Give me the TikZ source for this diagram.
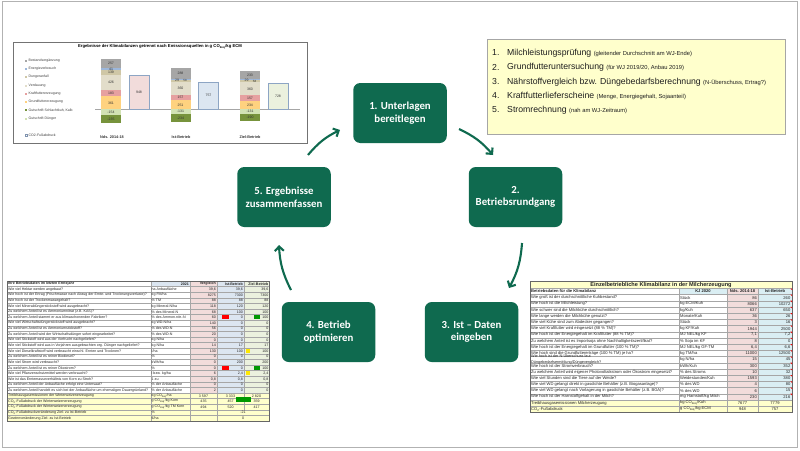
\documentclass[tikz,border=0pt]{standalone}
\usepackage{fontspec}
\setmainfont{Liberation Sans}
\newfontfamily\boxfont{Carlito}
\usetikzlibrary{arrows.meta}
\definecolor{boxgreen}{HTML}{0F6A4F}
\definecolor{cBest}{HTML}{A6A6A6}
\definecolor{cEner}{HTML}{9DB7DA}
\definecolor{cDung}{HTML}{CFC7A6}
\definecolor{cVerd}{HTML}{E2DDCA}
\definecolor{cKraft}{HTML}{E6A0A0}
\definecolor{cGrund}{HTML}{FFD27F}
\definecolor{cGschl}{HTML}{77933C}
\definecolor{cGdung}{HTML}{D2E2B4}
\definecolor{tpink}{HTML}{F2DCDB}
\definecolor{tblue}{HTML}{DCE6F1}
\definecolor{tcyan}{HTML}{DAEEF3}
\definecolor{tgreen}{HTML}{EBF1DE}
\definecolor{tyellow}{HTML}{FFFFCC}
\definecolor{gridgray}{HTML}{A6A6A6}
\newcommand\ltfont{\fontsize{3.6}{4}\selectfont}
\newcommand\rtfont{\fontsize{4.1}{4.6}\selectfont}
\newcommand\chfont{\fontsize{3.5}{4}\selectfont}
\newcommand\COeq{CO\textsubscript{2eq}}
% chart helpers
\newcommand\barseg[4]{\fill[#4] ({#1-10},{109.3-(#2)*0.0357}) rectangle ({#1+10},{109.3-(#3)*0.0357});}
\newcommand\barlbl[3]{\node[chartnum] at (#1,{109.3-(#2)*0.0357}) {#3};}
% left table row
\newcommand\lrow[6]{%
  \node[ltxt,anchor=west] at (8,{281+(#1+0.5)*5.6}) {#2};
  \node[ltxt,anchor=west] at (151.5,{281+(#1+0.5)*5.6}) {#3};
  \node[ltxt,anchor=east] at (216,{281+(#1+0.5)*5.6}) {#4};
  \node[ltxt,anchor=east] at (243,{281+(#1+0.5)*5.6}) {#5};
  \node[ltxt,anchor=east] at (268.5,{281+(#1+0.5)*5.6}) {#6};}
\newcommand\lrowy[6]{%
  \node[ltxt,anchor=west] at (8,{281+(#1+0.5)*5.6}) {#2};
  \node[ltxt,anchor=west] at (151.5,{281+(#1+0.5)*5.6}) {#3};
  \node[ltxt] at (203.5,{281+(#1+0.5)*5.6}) {#4};
  \node[ltxt] at (230.5,{281+(#1+0.5)*5.6}) {#5};
  \node[ltxt] at (256.5,{281+(#1+0.5)*5.6}) {#6};}
% right table row
\newcommand\rrow[5]{%
  \node[rtxt,anchor=west] at (531,{294.5+(#1-0.5)*6.2}) {#2};
  \node[rtxt,anchor=west] at (680,{294.5+(#1-0.5)*6.2}) {#3};
  \node[rtxt,anchor=east] at (757,{294.5+(#1-0.5)*6.2}) {#4};
  \node[rtxt,anchor=east] at (790.5,{294.5+(#1-0.5)*6.2}) {#5};
  \fill[red] (792,{294.5+(#1-1)*6.2}) -- (790.4,{294.5+(#1-1)*6.2}) -- (792,{294.5+(#1-1)*6.2+1.6}) -- cycle;}
\newcommand\rrowy[5]{%
  \node[rtxt,anchor=west] at (531,{294.5+(#1-0.5)*6.2}) {#2};
  \node[rtxt,anchor=west] at (680,{294.5+(#1-0.5)*6.2}) {#3};
  \node[rtxt] at (742.5,{294.5+(#1-0.5)*6.2}) {#4};
  \node[rtxt] at (775,{294.5+(#1-0.5)*6.2}) {#5};}
\begin{document}
\begin{tikzpicture}[x=1pt,y=-1pt,
  stepbox/.style={fill=boxgreen, rounded corners=7pt, minimum width=93.5pt, minimum height=60pt,
    text=white, font=\boxfont\bfseries\fontsize{10.8}{12.5}\selectfont, align=center, inner sep=0pt},
  cyclearrow/.style={draw=boxgreen, line width=2.1pt, -{Straight Barb[length=4.5pt,width=9pt]}},
  chartnum/.style={font=\chfont, inner sep=0pt, text=black!80},
  legtxt/.style={font=\chfont, inner sep=0pt, anchor=west, text=black!75},
  ltxt/.style={font=\ltfont, inner sep=0pt, text=black!85},
  rtxt/.style={font=\rtfont, inner sep=0pt, text=black!85},
  notenum/.style={font=\fontsize{8.7}{10}\selectfont, inner sep=0pt, anchor=west, text=black!88},
  grid/.style={draw=gridgray, line width=0.3pt}]
\useasboundingbox (0,0) rectangle (800,450);
\fill[white] (0,0) rectangle (800,450);
\draw[gray!60, line width=1.5pt] (2.5,1.5) rectangle (797.5,447.5);

% ---------------- chart ----------------
\draw[black!55, line width=0.8pt] (13,42) rectangle (307,143);
\node[font=\bfseries\fontsize{4.2}{5}\selectfont, inner sep=0pt] (ctitle) at (160,47)
  {Ergebnisse der Klimabilanzen getrennt nach Emissionsquellen in g \COeq/kg ECM};
\foreach \yy/\cc/\tt in {61/cBest/Bestandsergänzung, 69/cEner/Energieverbrauch, 77/cDung/Dungeranfall,
  86/cVerd/Verdauung, 94/cKraft/Kraftfuttererzeugung, 102/cGrund/Grundfuttererzeugung,
  110/cGschl/{Gutschrift Schlachtkuh, Kalb}, 119/cGdung/Gutschrift Dünger}{
  \fill[\cc] (25,\yy-1) rectangle (27,\yy+1);
  \node[legtxt] at (28.5,\yy) {\tt};
}
\draw[cEner!80!black, line width=0.3pt] (25,134) rectangle (27,136);
\node[legtxt] at (28.5,135) {CO2-Fußabdruck};
\draw[gray!70, line width=0.4pt] (95,109.3) -- (300,109.3);
% group 1
\barseg{111}{0}{361}{cGrund}\barseg{111}{361}{544}{cKraft}\barseg{111}{544}{970}{cVerd}
\barseg{111}{970}{1109}{cDung}\barseg{111}{1109}{1150}{cEner}\barseg{111}{1150}{1407}{cBest}
\barseg{111}{0}{-154}{cGdung}\barseg{111}{-154}{-389}{cGschl}
\barlbl{111}{1278}{257}\barlbl{111}{1129}{41}\barlbl{111}{1030}{139}\barlbl{111}{757}{426}
\barlbl{111}{452}{183}\barlbl{111}{180}{361}\barlbl{111}{-77}{-154}\barlbl{111}{-271}{-235}
\fill[tpink] (129,{109.3-948*0.0357}) rectangle (149,109.3);
\draw[cEner!90!black, line width=0.5pt] (129,{109.3-948*0.0357}) rectangle (149,109.3);
\barlbl{139}{474}{948}
% group 2
\barseg{180.5}{0}{251}{cGrund}\barseg{180.5}{251}{408}{cKraft}\barseg{180.5}{408}{768}{cVerd}
\barseg{180.5}{768}{826}{cDung}\barseg{180.5}{826}{855}{cEner}\barseg{180.5}{855}{1143}{cBest}
\barseg{180.5}{0}{-131}{cGdung}\barseg{180.5}{-131}{-365}{cGschl}
\barlbl{180.5}{999}{288}\node[chartnum] at (177,80) {29};\node[chartnum,font=\fontsize{3}{3}\selectfont] at (185,80.8) {58};
\barlbl{180.5}{588}{360}\barlbl{180.5}{329}{157}\barlbl{180.5}{125}{251}
\barlbl{180.5}{-65}{-131}\barlbl{180.5}{-248}{-234}
\fill[tblue] (198.5,{109.3-757*0.0357}) rectangle (218.5,109.3);
\draw[cEner!90!black, line width=0.5pt] (198.5,{109.3-757*0.0357}) rectangle (218.5,109.3);
\barlbl{208.5}{378}{757}
% group 3
\barseg{250}{0}{234}{cGrund}\barseg{250}{234}{391}{cKraft}\barseg{250}{391}{751}{cVerd}
\barseg{250}{751}{809}{cDung}\barseg{250}{809}{838}{cEner}\barseg{250}{838}{1071}{cBest}
\barseg{250}{0}{-131}{cGdung}\barseg{250}{-131}{-321}{cGschl}
\barlbl{250}{954}{233}\node[chartnum] at (246.5,80.6) {29};\node[chartnum,font=\fontsize{3}{3}\selectfont] at (254.5,81.4) {58};
\barlbl{250}{571}{360}\barlbl{250}{312}{157}\barlbl{250}{117}{234}
\barlbl{250}{-65}{-131}\barlbl{250}{-226}{-190}
\fill[tgreen] (268,{109.3-728*0.0357}) rectangle (288,109.3);
\draw[cEner!90!black, line width=0.5pt] (268,{109.3-728*0.0357}) rectangle (288,109.3);
\barlbl{278}{364}{728}
\node[chartnum, font=\bfseries\fontsize{3.8}{4}\selectfont] at (112,137) {Nds. 2014-18};
\node[chartnum, font=\bfseries\fontsize{3.8}{4}\selectfont] at (181,137) {Ist-Betrieb};
\node[chartnum, font=\bfseries\fontsize{3.8}{4}\selectfont] at (250,137) {Ziel-Betrieb};

% ---------------- note box ----------------
\draw[fill=tyellow, draw=gray!70, line width=0.8pt] (487,39) rectangle (785,134);
\foreach \yy/\nn/\aa/\bb in {53/1./Milchleistungsprüfung/{(gleitender Durchschnitt am WJ-Ende)},
  67/2./Grundfutteruntersuchung/{(für WJ 2019/20, Anbau 2019)},
  82/3./{Nährstoffvergleich bzw. Düngebedarfsberechnung}/{(N-Überschuss, Ertrag?)},
  96/4./Kraftfutterlieferscheine/{(Menge, Energiegehalt, Sojaanteil)},
  110/5./Stromrechnung/{(nah am WJ-Zeitraum)}}{
  \node[notenum] at (492,\yy) {\nn};
  \node[notenum] at (507,\yy) {\aa\ {\fontsize{5.8}{6}\selectfont\bb}};
}

% ---------------- cycle ----------------
\node[stepbox] (s1) at (400,113) {1. Unterlagen\\bereitlegen};
\node[stepbox] (s2) at (515.5,197) {2.\\Betriebsrundgang};
\node[stepbox] (s3) at (471.5,332) {3. Ist – Daten\\eingeben};
\node[stepbox] (s4) at (328.5,332) {4. Betrieb\\optimieren};
\node[stepbox] (s5) at (284,197) {5. Ergebnisse\\zusammenfassen};
\coordinate (a1s) at (459,129); \coordinate (a1e) at (493,155);
\coordinate (a2s) at (522,243); \coordinate (a2e) at (509,288);
\coordinate (a4s) at (291,290); \coordinate (a4e) at (279,245);
\coordinate (a5s) at (308,155); \coordinate (a5e) at (340,130);
\draw[cyclearrow] (a1s) to[bend left=12] (a1e);
\draw[cyclearrow] (a2s) to[bend left=12] (a2e);
\draw[cyclearrow] (a4s) to[bend left=12] (a4e);
\draw[cyclearrow] (a5s) to[bend left=12] (a5e);

% ---------------- left table ----------------
\fill[tblue] (151,281) rectangle (190,286.6);
\fill[tpink] (190,281) rectangle (217,393);
\fill[tblue] (217,281) rectangle (244,393);
\fill[tgreen] (244,281) rectangle (269,393);
\fill[tyellow] (7,393) rectangle (269,421);
\foreach \i in {1,...,24}{\draw[grid] (7,{281+\i*5.6}) -- (269,{281+\i*5.6});}
\foreach \xx in {151,190,217}{\draw[grid] (\xx,281) -- (\xx,421);}
\draw[grid] (244,281) -- (244,409.8);
\draw[black!60, line width=0.4pt] (7,281) rectangle (269,421);
\fill[red] (222,315.3) rectangle (228.5,319.4);
\fill[green!60!black] (254,315.3) rectangle (259.5,319.4);
\fill[red] (222,365.7) rectangle (228.5,369.8);
\fill[green!60!black] (254,365.7) rectangle (259.5,369.8);
\fill[yellow!90!orange] (245.5,349) rectangle (249.5,352.8);
\fill[yellow!90!orange] (245.5,371.2) rectangle (249.5,375);
\node[ltxt,anchor=west,font=\ltfont\bfseries] at (8,283.8) {Ihre Betriebsdaten im letzten Erntejahr};
\node[ltxt,anchor=east,font=\ltfont\bfseries] at (189,283.8) {2021};
\node[ltxt,anchor=east,font=\ltfont\bfseries] at (216,283.8) {Vergleich};
\node[ltxt,anchor=east,font=\ltfont\bfseries] at (243,283.8) {Ist-Betrieb};
\node[ltxt,anchor=east,font=\ltfont\bfseries] at (268.5,283.8) {Ziel-Betrieb};
\lrow{1}{Wie viel Hektar werden angebaut?}{ha Anbaufläche}{39,6}{39,6}{39,6}
\lrow{2}{Wie hoch ist der Ertrag (Frischmasse nach Abzug der Ernte- und Trocknungsverluste)?}{kg FM/ha}{8275}{7300}{7300}
\lrow{3}{Wie hoch ist der Trockenmassegehalt?}{\% TM}{88}{88}{88}
\lrow{4}{Wie viel Mineraldüngerstickstoff wird ausgebracht?}{kg Mineral-N/ha}{118}{120}{120}
\lrow{5}{Zu welchem Anteil ist es Ammoniumnitrat (z.B. KAS)?}{\% des Mineral-N}{68}{100}{100}
\lrow{6}{Zu welchem Anteil stammt er aus klimaschonenden Fabriken?}{\% des Ammon.nitr.-N}{60}{0}{100}
\lrow{7}{Wie viel Wirtschaftsdüngerstickstoff wird ausgebracht?}{kg WD-N/ha}{140}{0}{0}
\lrow{8}{Zu welchem Anteil ist es Ammoniumstickstoff?}{\% des WD-N}{56}{0}{0}
\lrow{9}{Zu welchem Anteil wird der Wirtschaftsdünger sofort eingearbeitet?}{\% des WD-N}{20}{0}{0}
\lrow{10}{Wie viel Stickstoff wird aus der Vorfrucht nachgeliefert?}{kg N/ha}{0}{0}{0}
\lrow{11}{Wie viel Stickstoff wird aus in Vorjahren ausgebrachten org. Dünger nachgeliefert?}{kg N/ha}{14}{17}{17}
\lrow{12}{Wie viel Dieselkraftstoff wird verbraucht einschl. Ernten und Trocknen?}{l/ha}{130}{100}{100}
\lrow{13}{Zu welchem Anteil ist es reiner Biodiesel?}{\%}{0}{0}{0}
\lrow{14}{Wie viel Strom wird verbraucht?}{kWh/ha}{0}{200}{200}
\lrow{15}{Zu welchem Anteil ist es reiner Ökostrom?}{\%}{0}{0}{100}
\lrow{16}{Wie viel Pflanzenschutzmittel werden verbraucht?}{l bzw. kg/ha}{6}{2,4}{2,4}
\lrow{17}{Wie ist das Erntemasseverhältnis von Korn zu Stroh?}{1 zu}{0,8}{0,8}{0,8}
\lrow{18}{Zu welchem Anteil der Anbaufläche erfolgt eine Untersaat?}{\% der Anbaufläche}{0}{0}{0}
\lrow{19}{Zu welchem Anteil handelt es sich bei der Anbaufläche um ehemaligen Dauergrünland?}{\% der Anbaufläche}{2}{0}{0}
\lrowy{20}{Treibhausgasemissionen der Winterweizenerzeugung}{kg \COeq/ha}{3 597}{3 333}{2 820}
\lrowy{21}{CO\textsubscript{2}-Fußabdruck der Winterweizenerzeugung}{g \COeq/kg Korn}{435}{457}{359}
\lrowy{22}{CO\textsubscript{2}-Fußabdruck der Winterweizenerzeugung}{g \COeq/kg TM Korn}{494}{520}{417}
\lrowy{23}{CO\textsubscript{2}-Fußabdruckveränderung Ziel- zu Ist-Betrieb}{\%}{}{}{}
\lrowy{24}{Gewinnveränderung Ziel- zu Ist-Betrieb}{€/ha}{}{}{}
\node[ltxt] at (243,{281+23.5*5.6}) {-21};
\node[ltxt] at (243,{281+24.5*5.6}) {0};
\fill[green!60!black] (236,396.7) rectangle (251,401.7);

% ---------------- right table ----------------
\fill[tyellow] (530,281) rectangle (792,288.5);
\fill[tcyan] (679,288.5) rectangle (727,294.5);
\fill[tpink] (727,288.5) rectangle (758,399.9);
\fill[tcyan] (758,288.5) rectangle (792,399.9);
\fill[tyellow] (530,399.9) rectangle (792,412.3);
\draw[grid] (530,288.5) -- (792,288.5);
\foreach \i in {0,...,18}{\draw[grid] (530,{294.5+\i*6.2}) -- (792,{294.5+\i*6.2});}
\foreach \xx in {679,727,758}{\draw[grid] (\xx,288.5) -- (\xx,412.3);}
\draw[black!60, line width=0.4pt] (530,281) rectangle (792,412.3);
\node[rtxt,font=\bfseries\fontsize{5.6}{6}\selectfont] (rtitle) at (661,284.8) {Einzelbetriebliche Klimabilanz in der Milcherzeugung};
\node[rtxt,anchor=west,font=\rtfont\bfseries] at (531,291.5) {Betriebsdaten für die Klimabilanz};
\node[rtxt,font=\rtfont\bfseries] at (703,291.5) {KJ 2020};
\node[rtxt,font=\rtfont\bfseries] at (742.5,291.5) {Nds. 2014-18};
\node[rtxt,font=\rtfont\bfseries] at (775,291.5) {Ist-Betrieb};
\fill[red] (792,288.5) -- (790.4,288.5) -- (792,290.1) -- cycle;
\rrow{1}{Wie groß ist der durchschnittliche Kuhbestand?}{Stück}{86}{260}
\rrow{2}{Wie hoch ist die Milchleistung?}{kg ECM/Kuh}{8066}{10272}
\rrow{3}{Wie schwer sind die Milchkühe durchschnittlich?}{kg/Kuh}{637}{650}
\rrow{4}{Wie lange werden die Milchkühe genutzt?}{Monate/Kuh}{36}{26}
\rrow{5}{Wie viel Kühe sind zum Abdecker gegangen?}{Stück}{3}{16}
\rrow{6}{Wie viel Kraftfutter wird eingesetzt (88 \% TM)?}{kg KF/Kuh}{1944}{2500}
\rrow{7}{Wie hoch ist der Energiegehalt im Kraftfutter (88 \% TM)?}{MJ NEL/kg KF}{7,1}{7,2}
\rrow{8}{Zu welchem Anteil ist es Importsoja ohne Nachhaltigkeitszertifikat?}{\% Soja im KF}{8}{0}
\rrow{9}{Wie hoch ist der Energiegehalt im Grundfutter (100 \% TM)?}{MJ NEL/kg GF-TM}{6,4}{6,6}
\rrow{10}{Wie hoch sind die Grundfuttererträge (100 \% TM) je ha?}{kg TM/ha}{11000}{12500}
\rrow{11}{\fontsize{3.8}{3.2}\selectfont\shortstack[l]{Wie hoch ist der N-Überschuss laut\\Düngebedarfsermittlung/Düngevergleich?}}{kg N/ha}{15}{45}
\rrow{12}{Wie hoch ist der Stromverbrauch?}{kWh/Kuh}{300}{352}
\rrow{13}{Zu welchem Anteil wird eigener Photovoltaikstrom oder Ökostrom eingesetzt?}{\% des Stroms}{10}{32}
\rrow{14}{Wie viel Stunden sind die Tiere auf der Weide?}{Weidestunden/Kuh}{1593}{380}
\rrow{15}{Wie viel WD gelangt direkt in gasdichte Behälter (z.B. Biogasanlage)?}{\% des WD}{4}{80}
\rrow{16}{Wie viel WD gelangt nach Vorlagerung in gasdichte Behälter (z.B. BGA)?}{\% des WD}{6}{15}
\rrow{17}{Wie hoch ist der Harnstoffgehalt in der Milch?}{mg Harnstoff/kg Milch}{230}{216}
\rrowy{18}{Treibhausgasemissionen Milcherzeugung}{kg \COeq/Kuh}{7677}{7779}
\rrowy{19}{CO\textsubscript{2}-Fußabdruck}{g \COeq/kg ECM}{948}{757}
\end{tikzpicture}
\end{document}
